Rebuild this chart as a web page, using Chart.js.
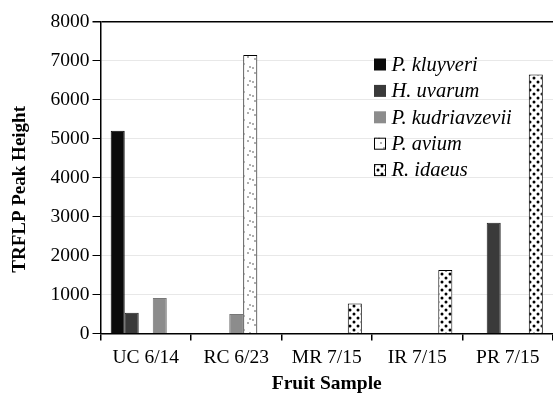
<!DOCTYPE html>
<html>
<head>
<meta charset="utf-8">
<script src="https://cdn.jsdelivr.net/npm/chart.js@4"></script>
<style>
    html, body { margin: 0; padding: 0; background: #fff; }
    #wrap { width: 553px; height: 394px; }
</style>
</head>
<body>
<div id="wrap"><canvas id="chart"></canvas></div>
<script>
// Data
const categories = ['UC 6/14', 'RC 6/23', 'MR 7/15', 'IR 7/15', 'PR 7/15'];
const seriesNames = ['P. kluyveri', 'H. uvarum', 'P. kudriavzevii', 'P. avium', 'R. idaeus'];
const kluyveri = [5200, 0, 0, 0, 0];
const uvarum = [530, 0, 0, 0, 2840];
const kudriavzevii = [910, 500, 0, 0, 0];
const avium = [0, 7140, 0, 0, 0];
const idaeus = [0, 0, 770, 1630, 6640];
const yTicks = [0, 1000, 2000, 3000, 4000, 5000, 6000, 7000, 8000];

const serif = '"Liberation Serif", "Times New Roman", serif';

// Dot patterns for the two hatched series
function dotPattern(size, dots, r, color) {
    const c = document.createElement('canvas');
    c.width = size;
    c.height = size;
    const g = c.getContext('2d');
    g.fillStyle = '#fff';
    g.fillRect(0, 0, size, size);
    g.fillStyle = color;
    dots.forEach(d => {
        g.beginPath();
        g.arc(d[0], d[1], r, 0, Math.PI * 2);
        g.fill();
    });
    return g.createPattern(c, 'repeat');
}

const sparseDots = dotPattern(14, [[3, 3], [10, 1], [6, 8], [12, 11], [1, 12]], 0.7, '#222');
const denseDots = dotPattern(8, [[2, 2], [6, 6]], 1.5, '#000');

// In the figure the UC bar of P. kudriavzevii sits one slot to the right
const kudMain = kudriavzevii.map((v, i) => i === 0 ? null : v);
const kudShift = kudriavzevii.map((v, i) => i === 0 ? v : null);

const styles = [
    { bg: '#0b0b0b', border: '#000' },
    { bg: '#3a3a3a', border: '#222' },
    { bg: '#8c8c8c', border: '#777' },
    { bg: sparseDots, border: '#000' },
    { bg: denseDots, border: '#000' }
];

const datasets = [
    { label: seriesNames[0], data: kluyveri, stack: 'a', backgroundColor: styles[0].bg, borderColor: styles[0].border },
    { label: seriesNames[1], data: uvarum, stack: 'b', backgroundColor: styles[1].bg, borderColor: styles[1].border },
    { label: seriesNames[2], data: kudMain, stack: 'c', backgroundColor: styles[2].bg, borderColor: styles[2].border },
    { label: seriesNames[3], data: avium, stack: 'd', backgroundColor: styles[3].bg, borderColor: styles[3].border },
    { label: seriesNames[4], data: idaeus, stack: 'e', backgroundColor: styles[4].bg, borderColor: styles[4].border },
    { label: seriesNames[2] + ' ', data: kudShift, stack: 'd', backgroundColor: styles[2].bg, borderColor: styles[2].border }
];
datasets.forEach(d => {
    d.borderWidth = 1;
    d.borderSkipped = 'bottom';
    d.categoryPercentage = 0.775;
    d.barPercentage = 1;
});

// Legend drawn inside the plot, like the figure
const insideLegend = {
    id: 'insideLegend',
    afterDraw(chart) {
        const ctx = chart.ctx;
        const x = 374;
        let y = 64.5;
        ctx.save();
        ctx.font = 'italic 20.5px ' + serif;
        ctx.textBaseline = 'middle';
        seriesNames.forEach((name, i) => {
            ctx.fillStyle = styles[i].bg;
            ctx.fillRect(x, y - 6, 12, 12);
            if (i >= 3) {
                ctx.strokeStyle = '#000';
                ctx.lineWidth = 1;
                ctx.strokeRect(x + 0.5, y - 5.5, 11, 11);
            }
            ctx.fillStyle = '#000';
            ctx.fillText(name, x + 17.5, y + 1);
            y += 26.4;
        });
        ctx.restore();
    }
};

new Chart(document.getElementById('chart'), {
    type: 'bar',
    data: { labels: categories, datasets: datasets },
    options: {
        responsive: true,
        maintainAspectRatio: false,
        animation: false,
        layout: { padding: { top: 21.5, right: 0, left: 0, bottom: 0 } },
        plugins: {
            legend: { display: false },
            tooltip: { enabled: false }
        },
        scales: {
            x: {
                stacked: true,
                grid: {
                    offset: true,
                    drawOnChartArea: false,
                    drawTicks: true,
                    tickLength: 7,
                    tickColor: '#000',
                    lineWidth: 1.5
                },
                border: { color: '#000', width: 1.5 },
                ticks: { color: '#000', font: { family: serif, size: 19.5 }, padding: 6, maxRotation: 0 },
                title: {
                    display: true,
                    text: 'Fruit Sample',
                    color: '#000',
                    font: { family: serif, size: 19.5, weight: 'bold', lineHeight: 1 },
                    padding: { top: 0, bottom: 0 }
                },
                afterFit(scale) { scale.height = 60.5; }
            },
            y: {
                stacked: true,
                min: 0,
                max: 8000,
                afterBuildTicks(scale) { scale.ticks = yTicks.map(v => ({ value: v })); },
                grid: {
                    color: ctx => ctx.tick && ctx.tick.value === 8000 ? '#000' : '#e8e8e8',
                    lineWidth: ctx => ctx.tick && ctx.tick.value === 8000 ? 1.5 : 1,
                    tickColor: '#000',
                    tickLength: 8
                },
                border: { color: '#000', width: 1.5 },
                ticks: {
                    color: '#000',
                    font: { family: serif, size: 19.5 },
                    padding: 3,
                    callback: v => String(v)
                },
                title: {
                    display: true,
                    // trailing spaces nudge the title down, as in the figure
                    text: 'TRFLP Peak Height\u00a0\u00a0\u00a0\u00a0\u00a0',
                    color: '#000',
                    font: { family: serif, size: 19, weight: 'bold' },
                    padding: { top: 8.6, bottom: 0 }
                },
                afterFit(scale) { scale.width = 100.5; }
            }
        }
    },
    plugins: [insideLegend]
});
</script>
</body>
</html>
